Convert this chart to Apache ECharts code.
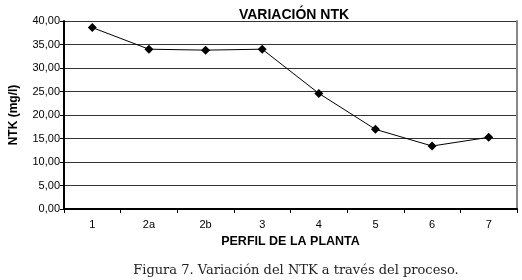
<!DOCTYPE html>
<html>
<head>
<meta charset="utf-8">
<script src="https://cdn.jsdelivr.net/npm/echarts@6/dist/echarts.min.js"></script>
<style>
  html, body { margin: 0; padding: 0; background: #fff; }
  #chart { width: 522px; height: 280px; }
</style>
</head>
<body>
<div id="chart"></div>
<script>
// perfiles de la planta
var perfiles = ['1', '2a', '2b', '3', '4', '5', '6', '7'];
// NTK (mg/l)
var ntk = [38.6, 34.0, 33.8, 34.0, 24.6, 16.95, 13.4, 15.25];
var yTicks = [0, 5, 10, 15, 20, 25, 30, 35, 40];

var fmt = function (v) { return v.toFixed(2).replace('.', ','); };

var chart = echarts.init(document.getElementById('chart'));
chart.setOption({
  backgroundColor: '#fff',
  animation: false,
  title: [{
    text: 'VARIACIÓN NTK',
    left: 289, top: 3, textAlign: 'center',
    textStyle: { fontFamily: 'Liberation Sans', fontSize: 14, fontWeight: 'bold', color: '#000' }
  }, {
    text: 'Figura 7. Variación del NTK a través del proceso.',
    left: 291, top: 259, textAlign: 'center',
    textStyle: { fontFamily: 'DejaVu Serif', fontSize: 13, fontWeight: 'normal', color: '#222' }
  }],
  grid: { left: 61, right: 5, top: 21, bottom: 71 },
  xAxis: {
    type: 'category',
    data: perfiles,
    boundaryGap: true,
    name: 'PERFIL DE LA PLANTA',
    nameLocation: 'middle',
    nameGap: 22,
    nameTextStyle: { fontFamily: 'Liberation Sans', fontSize: 12.5, fontWeight: 'bold', color: '#000' },
    axisLine: { lineStyle: { color: '#000', width: 2 } },
    axisTick: { show: true, interval: 0, length: 4, lineStyle: { color: '#000' } },
    axisLabel: { interval: 0, margin: 10, fontFamily: 'Liberation Sans', fontSize: 11, color: '#000' }
  },
  yAxis: [{
    type: 'value',
    min: yTicks[0], max: yTicks[yTicks.length - 1], interval: 5,
    name: 'NTK (mg/l)',
    nameLocation: 'middle',
    nameGap: 44,
    nameTextStyle: { fontFamily: 'Liberation Sans', fontSize: 12, fontWeight: 'bold', color: '#000' },
    axisLine: { show: true, lineStyle: { color: '#000', width: 2 } },
    axisTick: { show: true, length: 4, lineStyle: { color: '#000' } },
    axisLabel: { margin: 4, formatter: fmt, fontFamily: 'Liberation Sans', fontSize: 11, color: '#000' },
    splitLine: { show: true, lineStyle: { color: '#333', width: 1 } }
  }, {
    type: 'value',
    position: 'right',
    min: 0, max: 40,
    axisLine: { show: true, lineStyle: { color: '#888', width: 2 } },
    axisTick: { show: false },
    axisLabel: { show: false },
    splitLine: { show: false }
  }],
  series: [{
    type: 'line',
    data: ntk,
    symbol: 'diamond',
    symbolSize: 9,
    lineStyle: { color: '#000', width: 1 },
    itemStyle: { color: '#000' }
  }]
});
</script>
</body>
</html>
